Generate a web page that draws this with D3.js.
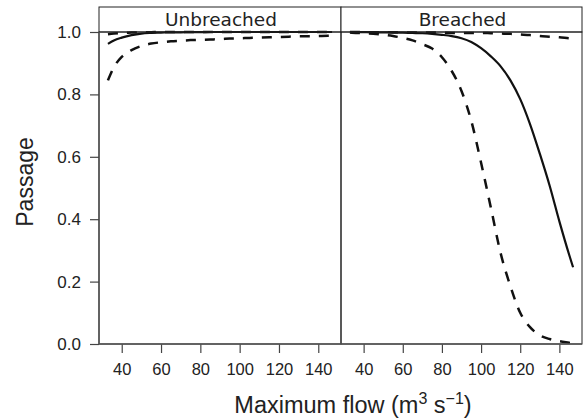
<!DOCTYPE html>
<html>
<head>
<meta charset="utf-8">
<script src="https://cdn.jsdelivr.net/npm/d3@7/dist/d3.min.js"></script>
<style>
  html, body { margin: 0; padding: 0; background: #fff; }
  svg { display: block; }
</style>
</head>
<body>
<svg id="chart" width="584" height="420"></svg>
<script>
// ---- data ----
const panels = ["Unbreached", "Breached"];
const flow = [33, 36, 40, 45, 50, 55, 60, 65, 70, 75, 80, 85, 90, 95, 100, 105, 110, 115, 120, 125, 130, 135, 140, 145, 147];

const unbreachedSolid = [0.962, 0.973, 0.982, 0.990, 0.995, 0.997, 0.998, 0.999, 0.999, 0.9995, 0.9995, 1, 1, 1, 1, 1, 1, 1, 1, 1, 1, 1, 1, 1, 1];
const unbreachedDashUpper = [0.993, 0.995, 0.997, 0.998, 0.999, 0.9995, 1, 1, 1, 1, 1, 1, 1, 1, 1, 1, 1, 1, 1, 1, 1, 1, 1, 1, 1];
const unbreachedDashLower = [0.845, 0.887, 0.920, 0.942, 0.955, 0.963, 0.967, 0.970, 0.972, 0.974, 0.975, 0.976, 0.977, 0.979, 0.980, 0.981, 0.982, 0.983, 0.984, 0.985, 0.986, 0.986, 0.987, 0.988, 0.988];

const breachedSolid = [1.0, 1.0, 0.9995, 0.999, 0.999, 0.998, 0.998, 0.997, 0.996, 0.994, 0.991, 0.987, 0.980, 0.968, 0.948, 0.922, 0.890, 0.845, 0.785, 0.705, 0.610, 0.508, 0.393, 0.286, 0.246];
const breachedDashUpper = [1.0, 1.0, 0.9995, 0.999, 0.999, 0.999, 0.999, 0.998, 0.998, 0.998, 0.998, 0.997, 0.997, 0.997, 0.997, 0.996, 0.995, 0.994, 0.992, 0.990, 0.987, 0.985, 0.983, 0.980, 0.979];
const breachedDashLower = [0.998, 0.997, 0.996, 0.994, 0.991, 0.987, 0.981, 0.973, 0.961, 0.947, 0.919, 0.875, 0.811, 0.715, 0.581, 0.437, 0.291, 0.185, 0.100, 0.054, 0.028, 0.016, 0.009, 0.004, 0.002];

const xTicks = [40, 60, 80, 100, 120, 140];
const yTicks = [0, 0.2, 0.4, 0.6, 0.8, 1.0];
const xDomain = [28.44, 151.56];

const seriesByPanel = {
  "Unbreached": [
    { values: unbreachedSolid, dash: null },
    { values: unbreachedDashUpper, dash: "10,9" },
    { values: unbreachedDashLower, dash: "10,9" }
  ],
  "Breached": [
    { values: breachedSolid, dash: null },
    { values: breachedDashUpper, dash: "10,9" },
    { values: breachedDashLower, dash: "10,9" }
  ]
};

// ---- layout ----
const svg = d3.select("#chart");
const plotTop = 32, plotBottom = 344, stripTop = 7;
const panelRanges = [[99, 341], [341, 582]];
const y = d3.scaleLinear().domain([0, 1]).range([plotBottom, plotTop]);
const tickFont = "'Liberation Sans', Arial, Helvetica, sans-serif";

panels.forEach((name, i) => {
  const [x0, x1] = panelRanges[i];
  const x = d3.scaleLinear().domain(xDomain).range([x0, x1]);
  const g = svg.append("g");

  g.append("clipPath").attr("id", "clip" + i)
    .append("rect").attr("x", x0).attr("y", plotTop - 2).attr("width", x1 - x0).attr("height", plotBottom - plotTop + 2);

  // strip
  g.append("rect").attr("x", x0).attr("y", stripTop).attr("width", x1 - x0).attr("height", plotTop - stripTop)
    .attr("fill", "#fff").attr("stroke", "#222").attr("stroke-width", 1);
  g.append("text").attr("x", (x0 + x1) / 2 + 1).attr("y", 26)
    .attr("text-anchor", "middle")
    .attr("font-family", "'DejaVu Sans', sans-serif").attr("font-size", 18.5)
    .attr("fill", "#222").text(name);

  // lines
  const line = d3.line()
    .x((d, j) => x(flow[j]))
    .y(d => y(d))
    .curve(d3.curveMonotoneX);
  seriesByPanel[name].forEach(s => {
    g.append("path").attr("d", line(s.values))
      .attr("clip-path", "url(#clip" + i + ")")
      .attr("fill", "none").attr("stroke", "#111")
      .attr("stroke-width", s.dash ? 2.5 : 2.2)
      .attr("stroke-dasharray", s.dash);
  });

  // panel border
  g.append("rect").attr("x", x0).attr("y", plotTop).attr("width", x1 - x0).attr("height", plotBottom - plotTop)
    .attr("fill", "none").attr("stroke", "#222").attr("stroke-width", 1);

  // bottom axis
  const xa = d3.axisBottom(x).tickValues(xTicks).tickSize(9).tickPadding(4).tickFormat(d3.format("d"));
  const ax = g.append("g").attr("transform", `translate(0,${plotBottom})`).call(xa);
  ax.select(".domain").remove();
  ax.selectAll(".tick line").attr("stroke", "#444").attr("stroke-width", 1.2);
  ax.selectAll(".tick text").attr("font-family", tickFont).attr("font-size", 16.5).attr("fill", "#222")
    .attr("dy", "1.1em");
});

// axis lines (grey, on top)
svg.append("line").attr("x1", 99).attr("x2", 582).attr("y1", plotBottom).attr("y2", plotBottom)
  .attr("stroke", "#555").attr("stroke-width", 1.5);
svg.append("line").attr("x1", 99).attr("x2", 99).attr("y1", plotTop).attr("y2", plotBottom)
  .attr("stroke", "#555").attr("stroke-width", 1.5);

// left axis
const ya = d3.axisLeft(y).tickValues(yTicks).tickSize(9).tickPadding(9).tickFormat(d3.format(".1f"));
const ay = svg.append("g").attr("transform", "translate(99,0)").call(ya);
ay.select(".domain").remove();
ay.selectAll(".tick line").attr("stroke", "#444").attr("stroke-width", 1.2);
ay.selectAll(".tick text").attr("font-family", tickFont).attr("font-size", 17).attr("fill", "#222");

// axis titles
svg.append("text")
  .attr("transform", "translate(33,182) rotate(-90)")
  .attr("text-anchor", "middle")
  .attr("font-family", tickFont).attr("font-size", 23).attr("fill", "#222")
  .text("Passage");

const xt = svg.append("text")
  .attr("x", 353).attr("y", 413)
  .attr("text-anchor", "middle")
  .attr("font-family", tickFont).attr("font-size", 23.5).attr("fill", "#222");
xt.append("tspan").text("Maximum flow (m");
xt.append("tspan").attr("font-size", 16).attr("dy", -9).text("3");
xt.append("tspan").attr("dy", 9).text(" s");
xt.append("tspan").attr("font-size", 16).attr("dy", -9).text("\u22121");
xt.append("tspan").attr("dy", 9).text(")");
</script>
</body>
</html>
